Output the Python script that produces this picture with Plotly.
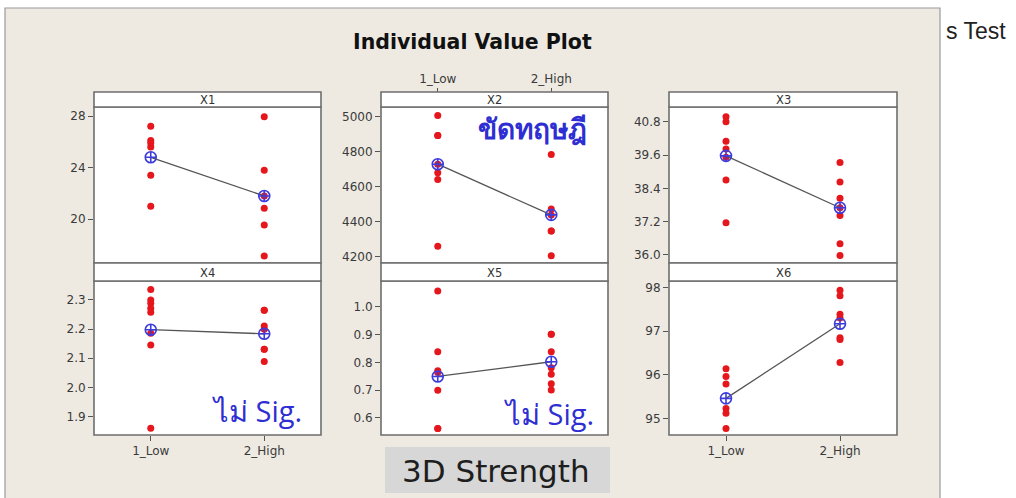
import plotly.graph_objects as go

W, H = 1016, 498

# ---------------- data ----------------
panel_names = ["X1", "X2", "X3", "X4", "X5", "X6"]
categories = ["1_Low", "2_High"]

x1_low = [27.2, 26.1, 25.9, 25.6, 23.4, 21.0]
x1_high = [27.95, 23.8, 21.8, 20.85, 19.55, 17.15]
x1_means = [24.8, 21.8]

x2_low = [5004, 4890, 4890, 4727, 4678, 4640, 4260]
x2_high = [4783, 4472, 4438, 4347, 4347, 4205]
x2_means = [4727, 4438]

x3_low = [40.98, 40.8, 40.1, 39.82, 39.52, 38.7, 37.16]
x3_high = [39.33, 38.63, 38.04, 37.7, 37.42, 36.4, 35.98]
x3_means = [39.57, 37.7]

x4_low = [2.336, 2.30, 2.289, 2.272, 2.258, 2.186, 2.146, 1.86]
x4_high = [2.265, 2.265, 2.211, 2.20, 2.131, 2.131, 2.089]
x4_means = [2.198, 2.184]

x5_low = [1.057, 0.838, 0.77, 0.763, 0.699, 0.561, 0.561]
x5_high = [0.901, 0.901, 0.838, 0.78, 0.757, 0.723, 0.70]
x5_means = [0.749, 0.802]

x6_low = [96.14, 95.96, 95.79, 95.23, 95.12, 94.77]
x6_high = [97.94, 97.81, 97.39, 97.3, 96.85, 96.81, 96.28]
x6_means = [95.46, 97.17]

x1_ticks = [20, 24, 28]
x2_ticks = [4200, 4400, 4600, 4800, 5000]
x3_ticks = [36.0, 37.2, 38.4, 39.6, 40.8]
x4_ticks = [1.9, 2.0, 2.1, 2.2, 2.3]
x5_ticks = [0.6, 0.7, 0.8, 0.9, 1.0]
x6_ticks = [95, 96, 97, 98]

panels = [
    (x1_low, x1_high, x1_means, x1_ticks, [16.6, 28.7], "d"),
    (x2_low, x2_high, x2_means, x2_ticks, [4164, 5053], "d"),
    (x3_low, x3_high, x3_means, x3_ticks, [35.71, 41.33], ".1f"),
    (x4_low, x4_high, x4_means, x4_ticks, [1.837, 2.365], ".1f"),
    (x5_low, x5_high, x5_means, x5_ticks, [0.538, 1.093], ".1f"),
    (x6_low, x6_high, x6_means, x6_ticks, [94.62, 98.15], "d"),
]

# ---------------- layout geometry (pixels) ----------------
def fx(px):
    return px / W

def fy(py):
    return 1 - py / H

cols = [(94, 321), (381, 608), (669, 897)]
rows_plot = [(107, 263), (281, 435)]
rows_strip = [(92, 107), (263, 281)]

BEIGE = "#EEEAE2"
BORDER = "#6E6E6E"
RED = "#E5161C"
BLUE = "#3C3CDC"
TICKFONT = dict(family="DejaVu Sans", size=12, color="#3A3A3A")

fig = go.Figure()
shapes = []
annotations = []


def label(px, py, text, font, xanchor="center"):
    annotations.append(dict(x=fx(px), y=fy(py), xref="paper", yref="paper",
                            xanchor=xanchor, yanchor="middle", text=text,
                            showarrow=False, font=font))


# beige frame
shapes.append(dict(type="rect", xref="paper", yref="paper",
                   x0=fx(5), x1=fx(940), y0=fy(505), y1=fy(8),
                   fillcolor=BEIGE, line=dict(color="#9A9A9A", width=1.2),
                   layer="below"))

xcat = [1, 2]
for i, (low, high, means, ticks, yr, fmt) in enumerate(panels):
    r, c = divmod(i, 3)
    k = i + 1
    xa = "x" if k == 1 else f"x{k}"
    ya = "y" if k == 1 else f"y{k}"
    cx0, cx1 = cols[c]
    py0, py1 = rows_plot[r]
    sy0, sy1 = rows_strip[r]

    shapes.append(dict(type="rect", xref="paper", yref="paper",
                       x0=fx(cx0), x1=fx(cx1), y0=fy(py1), y1=fy(py0),
                       fillcolor="white", line=dict(width=0), layer="below"))
    shapes.append(dict(type="rect", xref="paper", yref="paper",
                       x0=fx(cx0), x1=fx(cx1), y0=fy(py1), y1=fy(py0),
                       line=dict(color=BORDER, width=1.6), layer="above"))
    shapes.append(dict(type="rect", xref="paper", yref="paper",
                       x0=fx(cx0), x1=fx(cx1), y0=fy(sy1), y1=fy(sy0),
                       fillcolor="white", line=dict(color=BORDER, width=1.6),
                       layer="above"))
    label((cx0 + cx1) / 2, (sy0 + sy1) / 2 + 0.5, panel_names[i],
          dict(family="DejaVu Sans", size=11.5, color="#333333"))

    fig.add_trace(go.Scatter(
        x=[xcat[0]] * len(low) + [xcat[1]] * len(high), y=low + high,
        mode="markers", marker=dict(color=RED, size=7, symbol="circle"),
        xaxis=xa, yaxis=ya, showlegend=False, hoverinfo="y"))
    fig.add_trace(go.Scatter(
        x=xcat, y=means, mode="lines+markers",
        line=dict(color="#555555", width=1.3),
        marker=dict(symbol="circle-cross-open", size=11, color=BLUE,
                    line=dict(width=1.6, color=BLUE)),
        xaxis=xa, yaxis=ya, showlegend=False, hoverinfo="y"))

    xaxis = dict(domain=[fx(cx0), fx(cx1)], range=[0.5, 2.5],
                 showgrid=False, zeroline=False, showline=False,
                 tickvals=xcat, ticktext=categories, tickfont=TICKFONT,
                 fixedrange=True)
    if k == 2:
        xaxis.update(anchor="free", position=fy(sy0), side="top",
                     ticks="outside", ticklen=4, tickcolor="#555555",
                     showticklabels=True)
    elif k in (4, 6):
        xaxis.update(anchor=ya, side="bottom", ticks="outside", ticklen=5,
                     tickcolor="#555555", showticklabels=True)
    else:
        xaxis.update(anchor=ya, ticks="", showticklabels=False)

    yaxis = dict(domain=[fy(py1), fy(py0)], range=yr, anchor=xa,
                 showgrid=False, zeroline=False, showline=False,
                 tickvals=ticks, tickformat=fmt, ticks="outside", ticklen=5,
                 tickcolor="#555555", tickfont=TICKFONT, fixedrange=True)

    fig.layout[("xaxis" if k == 1 else f"xaxis{k}")] = xaxis
    fig.layout[("yaxis" if k == 1 else f"yaxis{k}")] = yaxis

# title
label(472, 42, "<b>Individual Value Plot</b>",
      dict(family="DejaVu Sans", size=20.5, color="#111111"))
# side text
label(944, 31, "s Test",
      dict(family="Liberation Sans Narrow, Liberation Sans", size=23, color="#222222"),
      xanchor="left")
# blue comments
label(532, 128, "<b>ขัดทฤษฎี</b>", dict(size=28, color="#2E2ED2"))
label(257, 410, "ไม่ Sig.", dict(size=29, color="#2E2ED2"))
label(549, 413, "ไม่ Sig.", dict(size=29, color="#2E2ED2"))

# 3D Strength box
shapes.append(dict(type="rect", xref="paper", yref="paper",
                   x0=fx(385), x1=fx(610), y0=fy(493), y1=fy(447),
                   fillcolor="#D7D7D7", line=dict(width=0), layer="below"))
label(496, 471, "3D Strength",
      dict(family="DejaVu Sans", size=31, color="#1E1E1E"))

fig.update_layout(width=W, height=H, margin=dict(l=0, r=0, t=0, b=0),
                  paper_bgcolor="white", plot_bgcolor="rgba(0,0,0,0)",
                  shapes=shapes, annotations=annotations, showlegend=False)

fig.write_html("out.html", config={"displayModeBar": False},
               post_script="document.body.style.margin='0';document.body.style.overflow='hidden';")
